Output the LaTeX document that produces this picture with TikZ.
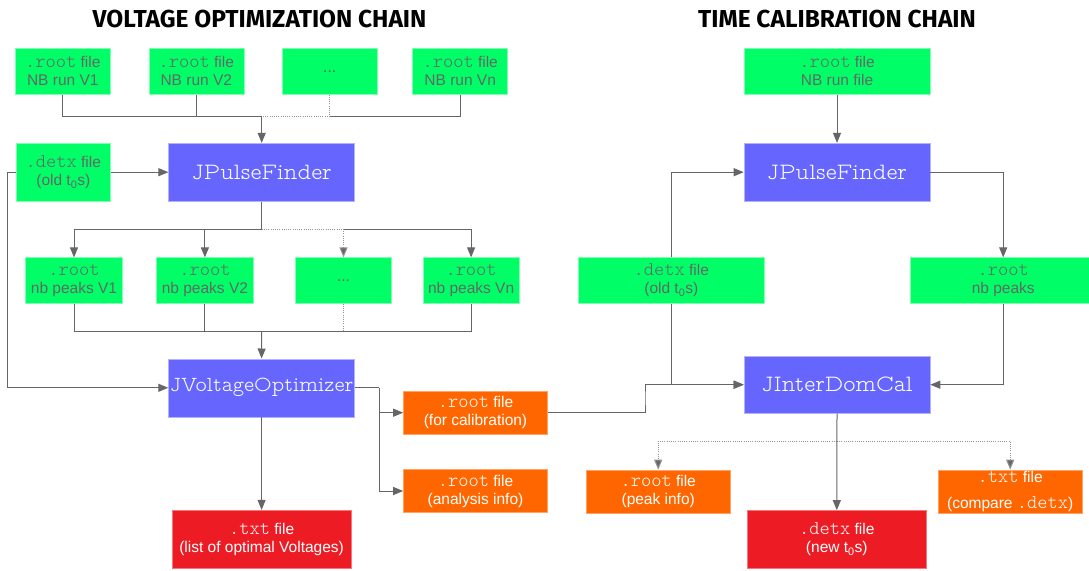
\documentclass[tikz,border=0pt]{standalone}
\usepackage{fontspec}
\setmainfont{Liberation Sans}
\newfontfamily\titlefont{Fira Sans}
\usetikzlibrary{arrows.meta}

\definecolor{fgreen}{HTML}{00FF66}
\definecolor{fblue}{HTML}{6666FF}
\definecolor{forange}{HTML}{FF6600}
\definecolor{fred}{HTML}{ED1C24}
\definecolor{ftext}{HTML}{666666}
\definecolor{fline}{HTML}{666666}

\newcommand{\ext}[1]{{\fontfamily{lmtt}\fontseries{l}\fontsize{19.5}{18}\selectfont #1}}
\newcommand{\prog}[1]{{\fontfamily{lmvtt}\fontseries{l}\selectfont #1}}

\tikzset{
  box/.style={rectangle, inner sep=0pt, align=center, font=\fontsize{15.5}{18}\selectfont},
  infile/.style={box, fill=fgreen, draw=fgreen!50!white, line width=0.6pt, text=ftext},
  program/.style={box, fill=fblue, draw=fblue!50!white, line width=0.6pt, text=white,
    minimum width=186, minimum height=58, font=\fontsize{23.4}{24}\selectfont},
  outfile/.style={box, fill=forange, draw=forange!60!white, line width=0.6pt, text=white,
    minimum width=144, minimum height=43.4},
  result/.style={box, fill=fred, draw=fred!60!white, line width=0.6pt, text=white,
    minimum width=179, minimum height=58},
  title/.style={font=\titlefont\bfseries\fontsize{24.5}{26}\selectfont},
  link/.style={draw=fline, line width=1pt},
  arrow/.style={link, -{Triangle[length=10pt,width=8pt]}},
  dotlink/.style={draw=fline!70, line width=1pt, dash pattern=on 1pt off 1.2pt},
  dotarrow/.style={dotlink, -{Triangle[length=10pt,width=8pt,fill=fline]}}
}

\begin{document}
\begin{tikzpicture}[x=1pt,y=-1pt]
  \useasboundingbox (0,0) rectangle (1089,570);

  % voltage optimization chain
  \node[title] (titleA) at (259.5,19) {VOLTAGE OPTIMIZATION CHAIN};
  \node[infile, minimum width=95, minimum height=46] (in1) at (62.8,71.2) {\ext{.root} file\\NB run V1};
  \node[infile, minimum width=95, minimum height=46] (in2) at (196.3,71.2) {\ext{.root} file\\NB run V2};
  \node[infile, minimum width=95, minimum height=46] (in3) at (329.7,71.2) {...};
  \node[infile, minimum width=95, minimum height=46] (in4) at (460.2,71.2) {\ext{.root} file\\NB run Vn};
  \node[infile, minimum width=94, minimum height=58] (detxA) at (63.3,172.2) {\ext{.detx} file\\(old t\textsubscript{0}s)};
  \node[program] (pfA) at (261.7,172.2) {\prog{JPulseFinder}};
  \node[infile, minimum width=96.5, minimum height=45.6] (pk1) at (74,280.5) {\ext{.root}\\nb peaks V1};
  \node[infile, minimum width=96.5, minimum height=45.6] (pk2) at (204.9,280.5) {\ext{.root}\\nb peaks V2};
  \node[infile, minimum width=96.5, minimum height=45.6] (pk3) at (343.5,280.5) {...};
  \node[infile, minimum width=96.5, minimum height=45.6] (pk4) at (471.1,280.5) {\ext{.root}\\nb peaks Vn};
  \node[program, font=\fontsize{21.5}{24}\selectfont] (jvo) at (261.6,387.8) {\prog{JVoltageOptimizer}};
  \node[outfile] (outcal) at (475.5,412.7) {\ext{.root} file\\(for calibration)};
  \node[outfile] (outana) at (475.5,491) {\ext{.root} file\\(analysis info)};
  \node[result] (txtA) at (261.6,539.2) {\ext{.txt} file\\(list of optimal Voltages)};

  \coordinate (busA) at (261.7,116.7);
  \draw[link] (in1.south) |- (busA);
  \draw[link] (in2.south) |- (busA);
  \draw[link] (in4.south) |- (in3.south |- busA);
  \draw[dotlink] (in3.south) |- (busA);
  \draw[arrow] (busA) -- (pfA.north);
  \draw[arrow] (detxA) -- (pfA);
  \coordinate (loopA) at (7.6,387.8);
  \draw[arrow] (detxA.west) -| (loopA) -- (jvo.west);

  \coordinate (fanA) at (261.7,229.3);
  \draw[link] (pfA.south) -- (fanA);
  \draw[arrow] (fanA) -| (pk1.north);
  \draw[arrow] (fanA) -| (pk2.north);
  \draw[dotarrow] (fanA) -| (pk3.north);
  \draw[arrow] (pk3.north |- fanA) -| (pk4.north);

  \coordinate (mergeA) at (261.7,331);
  \draw[link] (pk1.south) |- (mergeA);
  \draw[link] (pk2.south) |- (mergeA);
  \draw[link] (pk4.south) |- (mergeA);
  \draw[dotlink] (pk3.south) -- (pk3.south |- mergeA);
  \draw[arrow] (mergeA) -- (jvo.north);

  \coordinate (splitA) at (379.3,387.8);
  \draw[link] (jvo.east) -- (splitA);
  \draw[arrow] (splitA) |- (outcal.west);
  \draw[arrow] (splitA) |- (outana.west);
  \draw[arrow] (jvo.south) -- (txtA.north);

  % time calibration chain
  \node[title] (titleB) at (837,19) {TIME CALIBRATION CHAIN};
  \node[infile, minimum width=186, minimum height=46] (inB) at (837,71.2) {\ext{.root} file\\NB run file};
  \node[program] (pfB) at (837,172.2) {\prog{JPulseFinder}};
  \node[infile, minimum width=186, minimum height=45.6] (detxB) at (671.3,280.5) {\ext{.detx} file\\(old t\textsubscript{0}s)};
  \node[infile, minimum width=186, minimum height=45.6] (pkB) at (1003.2,280.5) {\ext{.root}\\nb peaks};
  \node[program, minimum height=57.3] (jidc) at (837,384.7) {\prog{JInterDomCal}};
  \node[outfile] (outpk) at (658.2,491.7) {\ext{.root} file\\(peak info)};
  \node[outfile] (outcmp) at (1010.2,491.7) {\ext{.txt} file\\[8pt](compare \ext{.detx})};
  \node[result] (txtB) at (836.8,539.5) {\ext{.detx} file\\(new t\textsubscript{0}s)};

  \draw[arrow] (inB) -- (pfB);
  \draw[arrow] (detxB.north) |- (pfB.west);
  \draw[arrow] (pfB.east) -| (pkB.north);
  \draw[arrow] (pkB.south) |- (jidc.east);
  \draw[arrow] (detxB.south) |- (jidc.west);
  \coordinate (stepB) at (645,398);
  \draw[arrow] (outcal.east) -| (stepB) |- (jidc.west);

  \coordinate (fanB) at (837,441);
  \draw[dotarrow] (fanB) -| (outpk.north);
  \draw[dotarrow] (fanB) -| (outcmp.north);
  \draw[arrow] (jidc.south) -- (txtB.north);
\end{tikzpicture}
\end{document}
